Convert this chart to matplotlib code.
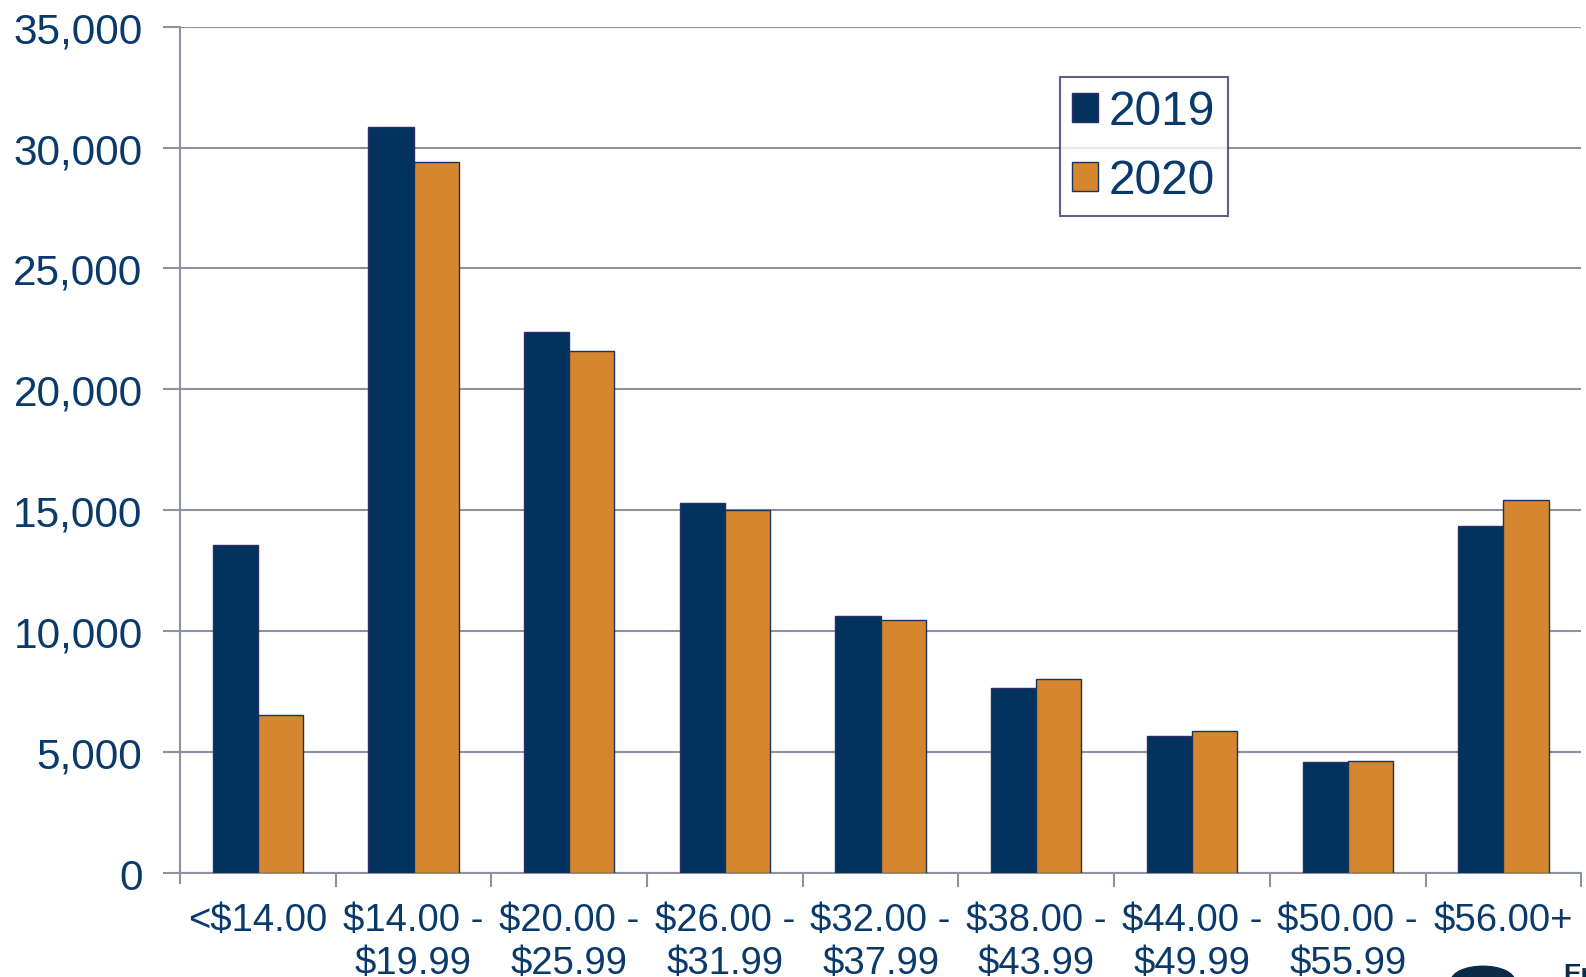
import matplotlib
matplotlib.use("Agg")
import matplotlib.pyplot as plt
from matplotlib.patches import Ellipse
import numpy as np

# price bands and counts
categories=["<$14.00", "$14.00 -\n$19.99", "$20.00 -\n$25.99", "$26.00 -\n$31.99", "$32.00 -\n$37.99",
            "$38.00 -\n$43.99", "$44.00 -\n$49.99", "$50.00 -\n$55.99", "$56.00+"]
values_2019=[13550, 30850, 22360, 15300, 10640, 7670, 5670, 4590, 14350]
values_2020=[6550, 29400, 21570, 15020, 10470, 8010, 5880, 4630, 15430]
yticks=[0, 5000, 10000, 15000, 20000, 25000, 30000, 35000]

navy="#02335F"
orange="#D5862E"
grid_col="#8E91A3"
text_col="#0A3A6B"

plt.rcParams["font.family"]=["Liberation Sans", "DejaVu Sans"]

fig=plt.figure(figsize=(15.86, 9.78), dpi=100)
ax=fig.add_axes([0.1135, 0.1063, 0.8835, 0.8654])

x=np.arange(len(categories))
w=0.29
ax.bar(x-w/2, values_2019, width=w, color=navy, edgecolor="#2B2E63", linewidth=1.0, label="2019", zorder=3)
ax.bar(x+w/2, values_2020, width=w, color=orange, edgecolor="#12365E", linewidth=1.0, label="2020", zorder=3)

ax.set_xlim(-0.5, len(categories)-0.5)
ax.set_ylim(0, 35000)
ax.set_yticks(yticks)
ax.set_yticklabels(["{:,}".format(v) for v in yticks])
ax.yaxis.grid(True, color=grid_col, linewidth=1.5, zorder=0)

# category labels sit between boundary ticks
ax.set_xticks(x+0.5)
ax.set_xticklabels([])
ax.set_xticks(x, minor=True)
ax.set_xticklabels(categories, minor=True, fontsize=27.5, color=text_col, linespacing=1.25, va="top")
ax.tick_params(axis="x", which="minor", length=0, pad=21)
ax.tick_params(axis="x", which="major", length=10, width=1.5, color=grid_col)
ax.tick_params(axis="y", length=12, width=1.5, color=grid_col, labelsize=30.5, labelcolor=text_col, pad=15)
# extra tick at the left edge
ax.axvline(-0.5, ymin=-0.012, ymax=0, color=grid_col, linewidth=1.5, clip_on=False)

for side in ["top", "right"]:
    ax.spines[side].set_visible(False)
ax.spines["left"].set_color(grid_col)
ax.spines["left"].set_linewidth(1.5)
ax.spines["bottom"].set_color(grid_col)
ax.spines["bottom"].set_linewidth(1.5)

leg=ax.legend(loc="upper left", bbox_to_anchor=(0.628, 0.9406), borderaxespad=0, fontsize=34.5, frameon=True,
              fancybox=False, handlelength=0.54, handleheight=0.54, handletextpad=0.22, borderpad=0.26,
              labelspacing=0.5, labelcolor=text_col)
leg.get_frame().set_edgecolor("#3A3470")
leg.get_frame().set_linewidth(1.5)

# corner of the logo, cut off by the page edge as in the source slide
fig.patches.append(Ellipse((0.935, -0.004), 0.04, 0.03, transform=fig.transFigure, color="#0B2A45"))
fig.text(0.9855, 0.0153, "En", fontsize=19, fontweight="bold", color="#0B2A45", ha="left", va="top")

fig.savefig("out.png", dpi=100)
plt.close(fig)
